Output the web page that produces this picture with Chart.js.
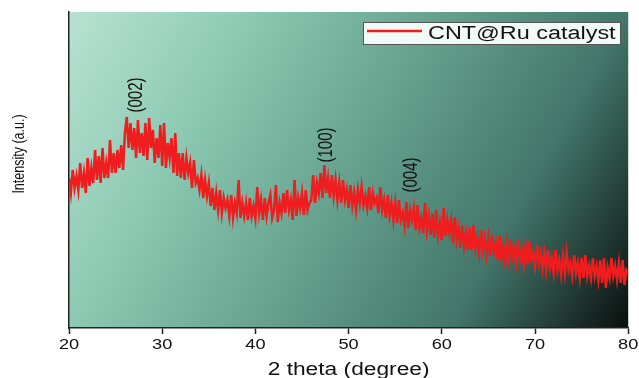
<!DOCTYPE html>
<html>

<head>
  <script src="https://cdn.jsdelivr.net/npm/chart.js@4/dist/chart.umd.min.js"></script>
  <style>
    body { margin: 0; background: #fff; }
  </style>
</head>

<body>
  <canvas id="chart" width="639" height="378"></canvas>
  <script>
    // 2 theta grid (degrees) and measured intensity (a.u.), one row per degree
    const startAngle = 20;
    const stepAngle = 0.2;
    const intensity = [
      150, 135, 158, 140, 152,  138, 165, 140, 155, 135,  170, 142, 160, 145, 178,
      148, 172, 145, 180, 150,  165, 150, 188, 155, 175,  155, 178, 160, 183, 158,
      195, 211, 180, 205, 178,  200, 170, 208, 175, 195,  172, 205, 168, 210, 180,
      198, 165, 190, 170, 203,  162, 205, 160, 185, 170,  190, 155, 195, 152, 175,
      150, 175, 148, 170, 155,  165, 140, 168, 145, 150,  138, 153, 130, 148, 132,
      145, 122, 140, 118, 135,  118, 138, 115, 130, 120,  128, 112, 133, 110, 125,
      115, 148, 110, 125, 112,  125, 108, 130, 112, 122,  110, 141, 115, 128, 108,
      130, 112, 125, 133, 110,  118, 143, 106, 125, 115,  135, 115, 138, 118, 128,
      108, 148, 112, 130, 120,  135, 113, 138, 118, 125,  128, 153, 125, 145, 135,
      155, 130, 163, 135, 150,  130, 153, 132, 148, 128,  145, 125, 148, 128, 138,
      120, 143, 122, 135, 118,  138, 125, 141, 123, 132,  120, 141, 118, 135, 125,
      130, 115, 141, 118, 128,  110, 133, 112, 125, 108,  125, 105, 128, 108, 115,
      102, 126, 100, 118, 108,  120, 98, 123, 100, 110,  95, 125, 98, 112, 93,
      115, 90, 118, 92, 105,  88, 120, 92, 108, 95,  108, 85, 111, 88, 100,
      80, 103, 82, 95, 78,  100, 78, 103, 80, 90,  75, 98, 78, 90, 73,
      90, 72, 93, 75, 85,  68, 93, 70, 82, 66,  85, 68, 88, 70, 78,
      65, 88, 68, 78, 63,  82, 65, 86, 68, 75,  62, 83, 65, 75, 60,
      75, 58, 78, 60, 70,  55, 78, 58, 68, 53,  72, 55, 75, 58, 65,
      52, 73, 55, 65, 50,  70, 50, 73, 52, 62,  50, 70, 52, 62, 48,
      68, 45, 70, 40, 60,  50, 70, 52, 62, 48,  65, 45, 68, 43, 58,
      55
    ];
    const xTicks = [20, 30, 40, 50, 60, 70, 80];
    const peakLabels = ['(002)', '(100)', '(004)'];
    const peakAngles = [27.3, 47.6, 56.8];
    const peakHeights = [233, 183, 153];

    const points = intensity.map((v, i) => ({ x: startAngle + i * stepAngle, y: v }));

    const FONT = '"Liberation Sans", Arial, sans-serif';
    const SX = 1.3; // the original picture is stretched sideways

    function stretchedText(ctx, text, x, y, size, align, angle) {
      ctx.save();
      ctx.translate(x, y);
      ctx.scale(SX, 1);
      if (angle) ctx.rotate(angle);
      ctx.font = size + 'px ' + FONT;
      ctx.textAlign = align;
      ctx.textBaseline = 'middle';
      ctx.fillText(text, 0, 0);
      ctx.restore();
    }

    // gradient background behind the plot
    const bgPlugin = {
      id: 'bg',
      beforeDraw(chart) {
        const { ctx, chartArea: a } = chart;
        const g = ctx.createLinearGradient(a.left, a.top, a.right, a.bottom);
        g.addColorStop(0, '#b8e2d3');
        g.addColorStop(0.24, '#8dcab4');
        g.addColorStop(0.5, '#66a28e');
        g.addColorStop(0.76, '#42766a');
        g.addColorStop(1, '#0a0f0d');
        ctx.save();
        ctx.fillStyle = g;
        ctx.fillRect(a.left, a.top, a.right - a.left, a.bottom - a.top);
        ctx.restore();
      }
    };

    // texts, peak labels and the boxed legend
    const notesPlugin = {
      id: 'notes',
      afterDraw(chart) {
        const { ctx, scales, chartArea: a } = chart;
        ctx.save();
        ctx.fillStyle = '#111';
        xTicks.forEach(v => stretchedText(ctx, String(v), scales.x.getPixelForValue(v), 345, 14, 'center'));
        stretchedText(ctx, '2 theta (degree)', (a.left + a.right) / 2, 370, 17.5, 'center');
        stretchedText(ctx, 'Intensity (a.u.)', 20, 154, 12.5, 'center', -Math.PI / 2);
        peakLabels.forEach((t, i) => {
          stretchedText(ctx, t, scales.x.getPixelForValue(peakAngles[i]),
            scales.y.getPixelForValue(peakHeights[i]), 15, 'center', -Math.PI / 2);
        });

        const ds = chart.data.datasets[0];
        const bx = 363, by = 22, bw = 257, bh = 22;
        ctx.fillStyle = '#f2faf7';
        ctx.fillRect(bx, by, bw, bh);
        ctx.strokeStyle = '#555';
        ctx.lineWidth = 1;
        ctx.strokeRect(bx + 0.5, by + 0.5, bw, bh);
        ctx.strokeStyle = ds.borderColor;
        ctx.lineWidth = 2.5;
        ctx.beginPath();
        ctx.moveTo(bx + 4, by + 9);
        ctx.lineTo(bx + 59, by + 9);
        ctx.stroke();
        ctx.fillStyle = '#111';
        stretchedText(ctx, ds.label, bx + 65, by + bh / 2 + 1, 18, 'left');
        ctx.restore();
      }
    };

    new Chart('chart', {
      type: 'line',
      data: {
        datasets: [{
          label: 'CNT@Ru catalyst',
          data: points,
          borderColor: '#ef1d1d',
          borderWidth: 2.5,
          pointRadius: 0,
          tension: 0
        }]
      },
      options: {
        responsive: false,
        animation: false,
        layout: { padding: { top: 12, right: 10 } },
        plugins: { legend: { display: false }, tooltip: { enabled: false } },
        scales: {
          x: {
            type: 'linear',
            min: 20,
            max: 80,
            afterBuildTicks: s => { s.ticks = xTicks.map(v => ({ value: v })); },
            afterFit: s => { s.height = 50; },
            grid: { drawOnChartArea: false, tickLength: 6, color: '#222', tickWidth: 1.5 },
            border: { color: '#222', width: 1.5 },
            ticks: { color: 'rgba(0,0,0,0)', maxRotation: 0, font: { size: 14 } }
          },
          y: {
            min: 0,
            max: 316,
            afterFit: s => { s.width = 69; },
            grid: { display: false },
            border: { color: '#222', width: 1.5 },
            ticks: { display: false }
          }
        }
      },
      plugins: [bgPlugin, notesPlugin]
    });
  </script>
</body>

</html>
